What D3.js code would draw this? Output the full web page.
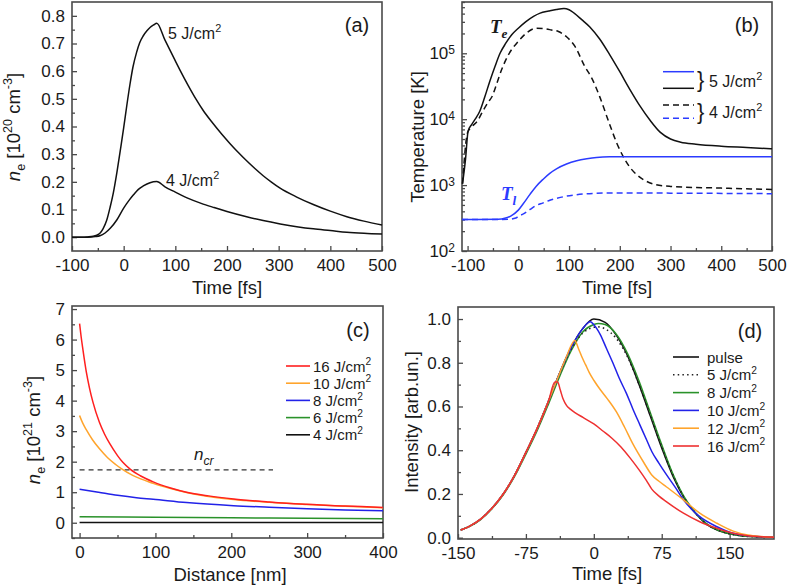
<!DOCTYPE html>
<html><head><meta charset="utf-8">
<script src="https://cdn.jsdelivr.net/npm/d3@7"></script>
<style>
body{margin:0;background:#fff}
svg{display:block}
text{font-family:"Liberation Sans",Arial,sans-serif;fill:#1a1a1a}
</style>
</head><body>
<svg id="chart" width="787" height="586"></svg>
<script>
// ---------------- DATA ----------------
// Panel (a): n_e vs time
const a5J = [[-100,0],[-80,0],[-70,0.001],[-59,0.003],[-52,0.007],[-46,0.014],[-40,0.03],[-33,0.06],[-26,0.11],[-20,0.16],[-13,0.235],[-6,0.32],[0,0.395],[6,0.475],[12,0.55],[18,0.615],[25,0.668],[31,0.703],[38,0.728],[45,0.746],[51,0.758],[58,0.767],[64,0.773],[80,0.712],[100,0.637],[109,0.604],[125,0.548],[140,0.499],[154,0.458],[170,0.418],[190,0.372],[206,0.338],[222,0.306],[238,0.276],[254,0.248],[270,0.222],[286,0.199],[302,0.178],[335,0.145],[367,0.118],[400,0.094],[432,0.074],[465,0.058],[500,0.044]];
const a4J = [[-100,0],[-70,0],[-55,0.002],[-46,0.005],[-36,0.015],[-26,0.032],[-13,0.063],[0,0.105],[10,0.132],[19,0.153],[28,0.172],[38,0.185],[51,0.197],[64,0.201],[80,0.182],[100,0.163],[125,0.14],[150,0.122],[175,0.107],[200,0.093],[238,0.074],[270,0.06],[303,0.048],[335,0.038],[367,0.030],[400,0.024],[432,0.018],[465,0.014],[500,0.011]];
const aXTicks = [-100,0,100,200,300,400,500];
const aYTicks = [0,0.1,0.2,0.3,0.4,0.5,0.6,0.7,0.8];

// Panel (b): temperatures [K] vs time
const bTe5 = [[-110,1050],[-104,2500],[-99,6600],[-92,8300],[-85,10000],[-76,13200],[-66,21900],[-56,38000],[-46,63000],[-36,100000],[-25,141000],[-13,191000],[0,240000],[15,302000],[30,363000],[43,407000],[60,437000],[75,462000],[90,479000],[100,457000],[110,407000],[125,324000],[141,251000],[160,166000],[180,95500],[200,52500],[220,28200],[240,15800],[260,9550],[280,6300],[300,5000],[320,4470],[350,4170],[400,3890],[450,3720],[500,3550]];
const bTe4 = [[-110,1050],[-100,6300],[-92,7600],[-80,9550],[-70,13200],[-60,17800],[-52,21900],[-42,35500],[-33,56200],[-20,93300],[0,152000],[15,200000],[36,240000],[50,237000],[65,226000],[79,214000],[95,178000],[112,126000],[131,63000],[145,41700],[160,22400],[181,7940],[195,4170],[207,2690],[220,1860],[233,1450],[250,1170],[270,1020],[300,955],[400,900],[500,860]];
const bTl5 = [[-111,300],[-40,302],[-25,316],[-15,339],[0,417],[10,525],[23,724],[35,955],[49,1230],[62,1510],[76,1780],[95,2090],[115,2340],[135,2510],[154,2630],[180,2690],[250,2700],[500,2700]];
const bTl4 = [[-111,300],[-20,302],[-5,316],[0,335],[10,365],[23,427],[35,490],[49,537],[62,590],[76,630],[95,680],[115,716],[150,750],[200,760],[300,755],[500,741]];
const bXTicks = [-100,0,100,200,300,400,500];
const bYTicks = [100,1000,10000,100000];
const bYExp = ["2","3","4","5"];

// Panel (c): n_e vs distance
const c16 = [[0,6.52],[2,6.1],[4.4,5.67],[8.8,4.95],[13,4.42],[17.6,3.95],[26,3.3],[33,2.9],[40,2.58],[50,2.2],[57,1.98],[67,1.75],[80,1.54],[97,1.34],[120,1.14],[141,1.0],[170,0.88],[203,0.78],[250,0.68],[291,0.61],[350,0.55],[400,0.50]];
const c10 = [[0,3.51],[4,3.27],[8.8,3.05],[17,2.72],[26,2.43],[37,2.13],[48,1.9],[55,1.77],[70,1.55],[97,1.29],[120,1.12],[141,0.99],[170,0.86],[203,0.76],[250,0.67],[300,0.6],[350,0.54],[400,0.49]];
const c8 = [[0,1.10],[25,1.0],[50,0.9],[75,0.82],[97,0.77],[141,0.66],[203,0.56],[250,0.51],[300,0.46],[350,0.42],[400,0.39]];
const c6 = [[0,0.20],[100,0.18],[200,0.165],[300,0.145],[400,0.13]];
const c4 = [[0,0.01],[400,0.01]];
const cNcr = [[0,1.73],[255,1.73]];
const cXTicks = [0,100,200,300,400];
const cYTicks = [0,1,2,3,4,5,6,7];
const cLegend = ["16","10","8","6","4"];

// Panel (d): intensity vs time
const dPulse = [[-147,0.035],[-137.5,0.052],[-125,0.085],[-112.5,0.135],[-100,0.20],[-87.5,0.285],[-75,0.39],[-62.5,0.50],[-50,0.625],[-37.5,0.755],[-25,0.87],[-12.5,0.955],[0,1.0],[12.5,0.985],[25,0.925],[37.5,0.83],[50,0.70],[62.5,0.555],[75,0.41],[87.5,0.28],[100,0.18],[112.5,0.11],[125,0.06],[137.5,0.033],[150,0.018],[162.5,0.009],[175,0.005],[187.5,0.003],[199,0.002]];
const d5 = [[-147,0.035],[-137.5,0.052],[-125,0.085],[-112.5,0.135],[-100,0.20],[-87.5,0.285],[-75,0.39],[-62.5,0.50],[-50,0.625],[-37.5,0.752],[-25,0.862],[-12.5,0.935],[0,0.962],[5,0.964],[12.5,0.955],[25,0.91],[37.5,0.825],[50,0.70],[62.5,0.56],[75,0.415],[87.5,0.285],[100,0.182],[112.5,0.112],[125,0.061],[137.5,0.034],[150,0.018],[162.5,0.009],[175,0.005],[187.5,0.003],[199,0.002]];
const d8 = [[-147,0.035],[-137.5,0.051],[-125,0.083],[-112.5,0.132],[-100,0.196],[-87.5,0.28],[-75,0.382],[-62.5,0.49],[-50,0.612],[-37.5,0.74],[-25,0.855],[-12.5,0.94],[0,0.975],[5,0.98],[12.5,0.975],[25,0.93],[37.5,0.84],[50,0.715],[62.5,0.57],[75,0.425],[87.5,0.29],[100,0.185],[112.5,0.113],[125,0.062],[137.5,0.034],[150,0.018],[162.5,0.009],[175,0.005],[187.5,0.003],[199,0.002]];
const d10 = [[-147,0.035],[-137.5,0.052],[-125,0.085],[-112.5,0.135],[-100,0.20],[-87.5,0.285],[-75,0.39],[-62.5,0.50],[-50,0.625],[-37.5,0.755],[-25,0.87],[-12.5,0.955],[-4,0.987],[0,0.974],[7,0.93],[14,0.865],[21,0.80],[28,0.73],[36,0.66],[43,0.59],[51,0.515],[58,0.45],[64,0.394],[72,0.34],[80.4,0.287],[90,0.23],[99,0.173],[108,0.13],[117,0.096],[136,0.05],[154,0.02],[170,0.009],[185,0.004],[199,0.002]];
const d12 = [[-147,0.035],[-137.5,0.052],[-125,0.085],[-112.5,0.135],[-100,0.20],[-87.5,0.285],[-75,0.39],[-62.5,0.50],[-50,0.625],[-37.5,0.755],[-30,0.83],[-21,0.902],[-17,0.865],[-13,0.825],[-9,0.79],[-5,0.755],[0,0.72],[6.6,0.68],[15,0.635],[25,0.575],[34,0.505],[43,0.43],[55,0.345],[64,0.287],[72,0.258],[80,0.233],[99,0.173],[117,0.112],[136,0.066],[154,0.03],[170,0.012],[185,0.005],[199,0.002]];
const d16 = [[-147,0.035],[-137.5,0.052],[-125,0.085],[-112.5,0.135],[-100,0.20],[-87.5,0.285],[-75,0.39],[-62.5,0.50],[-50,0.625],[-43,0.712],[-40,0.712],[-37,0.675],[-34,0.635],[-30,0.604],[-26,0.588],[-20,0.57],[-12,0.55],[0,0.52],[10,0.488],[20,0.455],[30,0.415],[40,0.365],[50,0.31],[58,0.262],[64,0.222],[72,0.19],[80,0.165],[99,0.112],[117,0.073],[136,0.043],[154,0.02],[170,0.009],[185,0.004],[199,0.002]];
const dXTicks = [-150,-75,0,75,150];
const dYTicks = [0,0.2,0.4,0.6,0.8,1.0];
const dLegend = ["pulse","5 J/cm","8 J/cm","10 J/cm","12 J/cm","16 J/cm"];

// ---------------- DRAWING ----------------
const svg = d3.select("#chart");
const RED="#ff1f1f", ORANGE="#ffa42c", BLUE="#2222e8", GREEN="#2a922a", BLACK="#111";
const FRAME="#4a4a4a";

function rich(parent, x, y, parts, size, opts={}) {
  const t = parent.append("text").attr("x",x).attr("y",y).attr("font-size",size)
    .attr("text-anchor", opts.anchor||"start");
  if (opts.rotate) t.attr("transform",`rotate(-90,${x},${y})`);
  if (opts.family) t.style("font-family", opts.family);
  if (opts.fill) t.style("fill", opts.fill);
  if (opts.weight) t.attr("font-weight", opts.weight);
  let cur = 0;
  parts.forEach(p=>{
    const shift = p.sup ? -size*0.42 : p.sub ? size*0.28 : 0;
    const ts = t.append("tspan").attr("dy", shift-cur).text(p.t);
    cur = shift;
    if (p.sup||p.sub) ts.attr("font-size", size*(p.scale||0.68));
    if (p.italic) ts.attr("font-style","italic");
  });
  return t;
}

function panel(x, y, xMajor, xMinor, yMajor, yMinor, xFmt, yFmt) {
  const g = svg.append("g");
  const [x0,x1] = x.range(), [y0,y1] = y.range();
  g.append("g").attr("transform",`translate(0,${y0})`)
    .call(d3.axisBottom(x).tickValues(xMinor).tickSize(-3).tickFormat(""))
    .call(s=>{s.select(".domain").remove(); s.selectAll("line").attr("stroke",FRAME).attr("stroke-width",1.3);});
  g.append("g").attr("transform",`translate(${x0},0)`)
    .call(d3.axisLeft(y).tickValues(yMinor).tickSize(-3).tickFormat(""))
    .call(s=>{s.select(".domain").remove(); s.selectAll("line").attr("stroke",FRAME).attr("stroke-width",1.3);});
  const gx = g.append("g").attr("transform",`translate(0,${y0})`)
    .call(d3.axisBottom(x).tickValues(xMajor).tickSize(-5).tickPadding(8).tickFormat(xFmt))
    .call(s=>{s.select(".domain").remove(); s.selectAll("line").attr("stroke",FRAME).attr("stroke-width",1.3);
      s.attr("font-size",17).attr("font-family",null); s.selectAll("text").attr("fill",null);});
  const gy = g.append("g").attr("transform",`translate(${x0},0)`)
    .call(d3.axisLeft(y).tickValues(yMajor).tickSize(-5).tickPadding(7).tickFormat(yFmt))
    .call(s=>{s.select(".domain").remove(); s.selectAll("line").attr("stroke",FRAME).attr("stroke-width",1.3);
      s.attr("font-size",17).attr("font-family",null); s.selectAll("text").attr("fill",null);});
  g.append("rect").attr("x",x0).attr("y",y1).attr("width",x1-x0).attr("height",y0-y1)
    .attr("fill","none").attr("stroke",FRAME).attr("stroke-width",1.6);
  return {g, gx, gy};
}

function drawLine(g, data, x, y, color, dash, width) {
  const p = g.append("path").datum(data)
    .attr("fill","none").attr("stroke",color).attr("stroke-width",width||1.5)
    .attr("stroke-linejoin","round")
    .attr("d", d3.line().x(d=>x(d[0])).y(d=>y(d[1])).curve(d3.curveMonotoneX));
  if (dash) p.attr("stroke-dasharray",dash);
  return p;
}
const fmtPlain = d => String(d);
const fmt1 = d3.format(".1f");

// ===== Panel (a) =====
{
  const x = d3.scaleLinear().domain([-100,500]).range([72,382]);
  const y = d3.scaleLinear().domain([-0.05,0.85]).range([251,2]);
  const p = panel(x, y, aXTicks, [-50,50,150,250,350,450], aYTicks,
    [0.05,0.15,0.25,0.35,0.45,0.55,0.65,0.75], fmtPlain, fmt1);
  drawLine(p.g, a5J, x, y, BLACK);
  drawLine(p.g, a4J, x, y, BLACK);
  rich(svg, 168, 39, [{t:"5 J/cm"},{t:"2",sup:true}], 16);
  rich(svg, 166, 186, [{t:"4 J/cm"},{t:"2",sup:true}], 16);
  svg.append("text").attr("x",357).attr("y",32).attr("font-size",20).attr("text-anchor","middle").text("(a)");
  svg.append("text").attr("x",227).attr("y",294).attr("font-size",18.5).attr("text-anchor","middle").text("Time [fs]");
  rich(svg, 20, 127, [{t:"n",italic:true},{t:"e",sub:true},{t:" [10"},{t:"20",sup:true},{t:" cm"},{t:"-3",sup:true},{t:"]"}], 18.5, {anchor:"middle", rotate:true});
}

// ===== Panel (b) =====
{
  const x = d3.scaleLinear().domain([-111,500]).range([462,772]);
  const y = d3.scaleLog().domain([100,600000]).range([251,2]);
  const minor = [];
  [100,1000,10000,100000].forEach(b=>{ for (let k=2;k<=9;k++){ if (b*k<=600000) minor.push(b*k);} });
  const p = panel(x, y, bXTicks, [-50,50,150,250,350,450], bYTicks, minor, fmtPlain, d=>"10");
  p.gy.selectAll(".tick text").each(function(d,i){
    d3.select(this).append("tspan").attr("dy","-0.45em").attr("font-size",12).text(bYExp[i]);
  });
  drawLine(p.g, bTe5, x, y, BLACK);
  drawLine(p.g, bTe4, x, y, BLACK, "6,4");
  drawLine(p.g, bTl5, x, y, "#2b3bff");
  drawLine(p.g, bTl4, x, y, "#2b3bff", "6,4");
  const lg = svg.append("g");
  [[71.7,"#2b3bff",null],[88.3,BLACK,null],[105,BLACK,"6,4"],[118.3,"#2b3bff","6,4"]].forEach(r=>{
    const l = lg.append("line").attr("x1",663).attr("x2",694).attr("y1",r[0]).attr("y2",r[0])
      .attr("stroke",r[1]).attr("stroke-width",1.5);
    if (r[2]) l.attr("stroke-dasharray",r[2]);
  });
  lg.append("text").attr("x",697).attr("y",87).attr("font-size",22).text("}");
  lg.append("text").attr("x",697).attr("y",119).attr("font-size",22).text("}");
  rich(lg, 709, 87, [{t:"5 J/cm"},{t:"2",sup:true}], 16);
  rich(lg, 709, 118, [{t:"4 J/cm"},{t:"2",sup:true}], 16);
  rich(svg, 490, 33, [{t:"T"},{t:"e",sub:true,scale:0.7}], 19, {family:'"Liberation Serif","DejaVu Serif",serif', weight:"bold"})
    .attr("font-style","italic");
  rich(svg, 501, 200, [{t:"T"},{t:"l",sub:true,scale:0.7}], 19, {family:'"Liberation Serif","DejaVu Serif",serif', weight:"bold", fill:"#2b3bff"})
    .attr("font-style","italic");
  svg.append("text").attr("x",747).attr("y",32).attr("font-size",20).attr("text-anchor","middle").text("(b)");
  svg.append("text").attr("x",617).attr("y",294).attr("font-size",18.5).attr("text-anchor","middle").text("Time [fs]");
  svg.append("text").attr("transform","rotate(-90,424,137)").attr("x",424).attr("y",137)
    .attr("font-size",18.5).attr("text-anchor","middle").text("Temperature [K]");
}

// ===== Panel (c) =====
{
  const x = d3.scaleLinear().domain([-10,400]).range([72,383]);
  const y = d3.scaleLinear().domain([-0.5,7.1]).range([538,306]);
  const p = panel(x, y, cXTicks, [50,150,250,350], cYTicks, [-0.5,0.5,1.5,2.5,3.5,4.5,5.5,6.5], fmtPlain, fmtPlain);
  drawLine(p.g, cNcr, x, y, "#333", "5,4", 1.2);
  drawLine(p.g, c4, x, y, BLACK);
  drawLine(p.g, c6, x, y, GREEN);
  drawLine(p.g, c8, x, y, BLUE);
  drawLine(p.g, c10, x, y, ORANGE);
  drawLine(p.g, c16, x, y, RED);
  const colors = [RED, ORANGE, BLUE, GREEN, BLACK];
  cLegend.forEach((lab,i)=>{
    const yy = 366 + i*17.2;
    svg.append("line").attr("x1",286).attr("x2",310).attr("y1",yy).attr("y2",yy).attr("stroke",colors[i]).attr("stroke-width",1.6);
    rich(svg, 313, yy+5.5, [{t:lab+" J/cm"},{t:"2",sup:true}], 15);
  });
  rich(svg, 194, 460, [{t:"n",italic:true},{t:"cr",sub:true,italic:true,scale:0.72}], 17);
  svg.append("text").attr("x",358).attr("y",337).attr("font-size",20).attr("text-anchor","middle").text("(c)");
  svg.append("text").attr("x",230).attr("y",581).attr("font-size",18.5).attr("text-anchor","middle").text("Distance [nm]");
  rich(svg, 40, 430, [{t:"n",italic:true},{t:"e",sub:true},{t:" [10"},{t:"21",sup:true},{t:" cm"},{t:"-3",sup:true},{t:"]"}], 18.5, {anchor:"middle", rotate:true});
}

// ===== Panel (d) =====
{
  const x = d3.scaleLinear().domain([-150,199]).range([458,774]);
  const y = d3.scaleLinear().domain([-0.006,1.055]).range([539,307]);
  const p = panel(x, y, dXTicks, [-112.5,-37.5,37.5,112.5,187.5], dYTicks, [0.1,0.3,0.5,0.7,0.9], fmtPlain, fmt1);
  drawLine(p.g, dPulse, x, y, BLACK);
  drawLine(p.g, d8, x, y, GREEN);
  drawLine(p.g, d5, x, y, "#222", "1.5,3.2", 1.6);
  drawLine(p.g, d10, x, y, BLUE);
  drawLine(p.g, d12, x, y, ORANGE);
  drawLine(p.g, d16, x, y, "#ee3030");
  const colors = [BLACK, "#222", GREEN, BLUE, ORANGE, "#ee3030"];
  dLegend.forEach((lab,i)=>{
    const yy = 357 + i*17.8;
    const l = svg.append("line").attr("x1",673).attr("x2",699).attr("y1",yy).attr("y2",yy).attr("stroke",colors[i]).attr("stroke-width",1.6);
    if (i===1) l.attr("stroke-dasharray","1.5,3.2");
    if (i===0) svg.append("text").attr("x",707).attr("y",yy+5.5).attr("font-size",15).text(lab);
    else rich(svg, 707, yy+5.5, [{t:lab},{t:"2",sup:true}], 15);
  });
  svg.append("text").attr("x",750).attr("y",338).attr("font-size",20).attr("text-anchor","middle").text("(d)");
  svg.append("text").attr("x",607).attr("y",580).attr("font-size",18.5).attr("text-anchor","middle").text("Time [fs]");
  svg.append("text").attr("transform","rotate(-90,418,422)").attr("x",418).attr("y",422)
    .attr("font-size",18.5).attr("text-anchor","middle").text("Intensity [arb.un.]");
}
</script>
</body></html>
